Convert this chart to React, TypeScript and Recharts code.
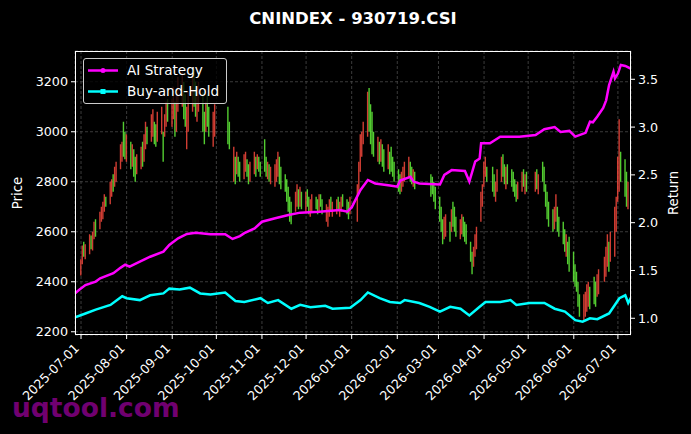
import { Bar, CartesianGrid, ComposedChart, Line, XAxis, YAxis } from "recharts";

// trading calendar, one list of trading days per month
const months = [
  "2025-07", "2025-08", "2025-09", "2025-10", "2025-11", "2025-12",
  "2026-01", "2026-02", "2026-03", "2026-04", "2026-05", "2026-06", "2026-07",
];
const monthDays = [
  [1, 2, 3, 4, 7, 8, 9, 10, 11, 14, 15, 16, 17, 18, 21, 22, 23, 24, 25, 28, 29, 30, 31],
  [1, 4, 5, 6, 7, 8, 11, 12, 13, 14, 15, 18, 19, 20, 21, 22, 25, 26, 27, 28, 29],
  [1, 2, 3, 4, 5, 8, 9, 10, 11, 12, 15, 16, 17, 18, 19, 22, 23, 24, 25, 26, 29, 30],
  [9, 10, 13, 14, 15, 16, 17, 20, 21, 22, 23, 24, 27, 28, 29, 30, 31],
  [3, 4, 5, 6, 7, 10, 11, 12, 13, 14, 17, 18, 19, 20, 21, 24, 25, 26, 27, 28],
  [1, 2, 3, 4, 5, 8, 9, 10, 11, 12, 15, 16, 17, 18, 19, 22, 23, 24, 25, 26, 29, 30, 31],
  [5, 6, 7, 8, 9, 12, 13, 14, 15, 16, 19, 20, 21, 22, 23, 26, 27, 28, 29, 30],
  [2, 3, 4, 5, 6, 9, 10, 11, 12, 13, 24, 25, 26, 27],
  [2, 3, 4, 5, 6, 9, 10, 11, 12, 13, 16, 17, 18, 19, 20, 23, 24, 25, 26, 27, 30, 31],
  [1, 2, 3, 7, 8, 9, 10, 13, 14, 15, 16, 17, 20, 21, 22, 23, 24, 27, 28, 29, 30],
  [6, 7, 8, 11, 12, 13, 14, 15, 18, 19, 20, 21, 22, 25, 26, 27, 28, 29],
  [1, 2, 3, 4, 5, 8, 9, 10, 11, 12, 15, 16, 17, 18, 22, 23, 24, 25, 26, 29, 30],
  [1, 2, 3, 6, 7, 8],
];

// daily low / high of the index, per month
const candleLow = [
  [2425, 2470, 2500, 2490, 2510, 2530, 2525, 2570, 2580, 2610, 2640, 2650, 2680, 2700, 2710, 2740, 2760, 2780, 2800, 2850, 2880, 2900, 2890],
  [2880, 2850, 2860, 2820, 2800, 2830, 2850, 2860, 2880, 2930, 2950, 2960, 2980, 2950, 2940, 2960, 2990, 2880, 2980, 3020, 3040],
  [3020, 3050, 2980, 3000, 3080, 3100, 3050, 3020, 2930, 3000, 3080, 3100, 3060, 3040, 3080, 3000, 2950, 3000, 3020, 2980, 2940, 2980],
  [2950, 2930, 2800, 2790, 2830, 2820, 2800, 2810, 2840, 2820, 2790, 2800, 2830, 2820, 2850, 2840, 2820],
  [2840, 2820, 2810, 2800, 2790, 2780, 2800, 2820, 2790, 2770, 2760, 2720, 2680, 2640, 2630, 2680, 2700, 2690, 2700, 2690],
  [2680, 2700, 2670, 2660, 2680, 2690, 2670, 2680, 2700, 2670, 2640, 2620, 2660, 2680, 2660, 2670, 2690, 2660, 2680, 2700, 2670, 2650, 2670],
  [2640, 2760, 2840, 2900, 2950, 2980, 3000, 2950, 2910, 2900, 2880, 2870, 2880, 2860, 2840, 2850, 2830, 2840, 2820, 2800],
  [2760, 2750, 2760, 2780, 2800, 2820, 2800, 2790, 2780, 2770, 2740, 2750, 2720, 2690],
  [2640, 2600, 2550, 2570, 2580, 2560, 2600, 2620, 2600, 2580, 2570, 2590, 2580, 2560, 2550, 2480, 2430, 2460, 2500, 2530, 2640, 2700],
  [2780, 2820, 2800, 2760, 2740, 2720, 2760, 2800, 2820, 2790, 2770, 2790, 2780, 2760, 2740, 2720, 2730, 2760, 2780, 2750, 2760],
  [2760, 2770, 2750, 2800, 2760, 2700, 2650, 2620, 2600, 2610, 2640, 2600, 2580, 2550, 2520, 2500, 2470, 2440],
  [2400, 2380, 2360, 2300, 2260, 2240, 2260, 2280, 2300, 2290, 2310, 2300, 2340, 2350, 2400, 2420, 2460, 2440, 2480, 2500, 2600],
  [2720, 2760, 2800, 2740, 2700, 2690],
];
const candleHigh = [
  [2490, 2545, 2560, 2550, 2590, 2585, 2600, 2640, 2650, 2680, 2700, 2720, 2750, 2740, 2800, 2810, 2830, 2860, 2880, 2950, 2960, 3040, 3000],
  [2990, 2960, 2950, 2930, 2900, 2910, 2940, 2960, 2990, 3040, 3020, 3070, 3090, 3040, 3030, 3080, 3100, 3000, 3070, 3120, 3130],
  [3130, 3180, 3120, 3150, 3220, 3240, 3200, 3150, 3100, 3160, 3230, 3250, 3200, 3180, 3200, 3160, 3080, 3120, 3150, 3100, 3080, 3110],
  [3100, 3040, 2940, 2900, 2920, 2900, 2880, 2910, 2920, 2890, 2870, 2880, 2920, 2900, 2910, 2900, 2880],
  [2970, 2900, 2880, 2870, 2860, 2870, 2890, 2920, 2900, 2860, 2830, 2810, 2780, 2740, 2720, 2760, 2790, 2770, 2780, 2760],
  [2760, 2770, 2740, 2730, 2750, 2740, 2730, 2750, 2750, 2730, 2710, 2700, 2730, 2740, 2720, 2730, 2740, 2720, 2740, 2750, 2730, 2720, 2740],
  [2790, 2880, 2990, 3000, 3040, 3160, 3175, 3110, 3080, 3000, 2980, 2960, 2970, 2950, 2930, 2950, 2920, 2940, 2900, 2880],
  [2850, 2830, 2840, 2860, 2880, 2900, 2880, 2860, 2850, 2840, 2830, 2820, 2800, 2780],
  [2740, 2700, 2650, 2660, 2670, 2640, 2690, 2720, 2700, 2660, 2650, 2670, 2660, 2640, 2630, 2560, 2520, 2540, 2590, 2620, 2760, 2790],
  [2880, 2900, 2860, 2860, 2830, 2800, 2850, 2900, 2910, 2870, 2860, 2870, 2850, 2840, 2810, 2790, 2800, 2840, 2850, 2830, 2840],
  [2840, 2850, 2830, 2880, 2860, 2790, 2760, 2720, 2690, 2700, 2750, 2700, 2660, 2640, 2610, 2590, 2560, 2580],
  [2520, 2470, 2440, 2400, 2350, 2350, 2360, 2390, 2400, 2380, 2420, 2400, 2430, 2450, 2500, 2540, 2590, 2560, 2600, 2700, 2740],
  [2900, 3050, 2920, 2890, 2840, 2800],
];
// r = up day (red), g = down day (green)
const candleDir = [
  "rrgrrgrrgrrrrgrrgrrrrgg",
  "rgrggrrgrrgrrggrrgrrg",
  "rrgrrrggrrrggrrggrggrr",
  "ggrgrggrrggrrgrgg",
  "ggrgrrrrgggggggrrgrg",
  "rggrrggrggrrrgrrgrrgggr",
  "rrrrrrggggrgrggrgggg",
  "ggrrrrggrggggg",
  "gggrrgrgggrrgggggrrrrr",
  "rrgggrrrggrgggggrrgrg",
  "rgrggggggrrggggrgg",
  "gggggrrrrgggrrrrrgrrr",
  "rrgggr",
];

// strategy curves: [day since 2025-07-01, cumulative return]
const aiStrategy = [
  [-4, 1.262], [-1, 1.3], [3, 1.348], [10, 1.384], [13, 1.418], [22, 1.471], [27, 1.53], [30, 1.56],
  [33, 1.54], [40, 1.592], [47, 1.644], [56, 1.697], [60, 1.767], [66, 1.837], [72, 1.882], [78, 1.895],
  [88, 1.88], [98, 1.88], [103, 1.83], [108, 1.86], [111, 1.89], [118, 1.94], [123, 2.01], [132, 2.046],
  [141, 2.08], [149, 2.105], [162, 2.115], [176, 2.133], [181, 2.115], [184, 2.16], [190, 2.342],
  [195, 2.447], [200, 2.41], [210, 2.39], [215, 2.377], [217, 2.44], [224, 2.48], [226, 2.43],
  [230, 2.41], [244, 2.4], [247, 2.5], [252, 2.55], [261, 2.54], [264, 2.43], [268, 2.64], [271, 2.67],
  [272, 2.83], [278, 2.83], [285, 2.9], [298, 2.9], [309, 2.917], [315, 2.977], [322, 3.0], [326, 2.95],
  [332, 2.96], [336, 2.9], [343, 2.94], [346, 3.056], [348, 3.05], [351, 3.11], [355, 3.2], [357, 3.28],
  [359, 3.44], [362, 3.58], [363, 3.51], [365, 3.56], [367, 3.65], [370, 3.64], [374, 3.61],
];
const buyAndHold = [
  [-4, 1.01], [3, 1.05], [10, 1.09], [20, 1.14], [28, 1.23], [31, 1.21], [40, 1.19], [47, 1.24],
  [56, 1.26], [60, 1.31], [67, 1.3], [74, 1.32], [81, 1.26], [88, 1.25], [98, 1.27], [105, 1.18],
  [111, 1.17], [122, 1.21], [127, 1.16], [134, 1.19], [143, 1.1], [149, 1.14], [156, 1.115], [166, 1.13],
  [171, 1.1], [183, 1.11], [190, 1.19], [195, 1.27], [203, 1.21], [210, 1.17], [217, 1.16], [220, 1.19],
  [230, 1.16], [237, 1.12], [244, 1.07], [251, 1.12], [258, 1.1], [264, 1.03], [271, 1.12], [275, 1.17],
  [285, 1.17], [292, 1.19], [296, 1.14], [305, 1.16], [315, 1.16], [322, 1.1], [329, 1.07], [336, 0.98],
  [341, 0.965], [346, 1.0], [351, 0.99], [359, 1.05], [366, 1.21], [370, 1.24], [372, 1.16], [374, 1.22],
];

const xTickLabels = [
  "2025-07-01", "2025-08-01", "2025-09-01", "2025-10-01", "2025-11-01", "2025-12-01", "2026-01-01",
  "2026-02-01", "2026-03-01", "2026-04-01", "2026-05-01", "2026-06-01", "2026-07-01",
];
const priceTicks = [2200, 2400, 2600, 2800, 3000, 3200];
const returnTicks = [1.0, 1.5, 2.0, 2.5, 3.0, 3.5];

const RED = "#f5483c";
const GREEN = "#62f03a";
const FONT = "DejaVu Sans";

const BASE = Date.UTC(2025, 6, 1);
const dayOf = (iso: string) => {
  const [y, m, d] = iso.split("-").map(Number);
  return Math.round((Date.UTC(y, m - 1, d) - BASE) / 86400000);
};

const candles = months.flatMap((m, mi) =>
  monthDays[mi].map((day, i) => ({
    d: dayOf(`${m}-${day}`),
    lo: candleLow[mi][i],
    hi: candleHigh[mi][i],
    up: candleDir[mi][i] === "r",
  }))
);
const aiRows = aiStrategy.map(([d, v]) => ({ d, v }));
const bhRows = buyAndHold.map(([d, v]) => ({ d, v }));
const xTicks = xTickLabels.map(dayOf);

const Candle = (props: any) => {
  const { x, y, width, height, payload } = props;
  if (!payload || payload.lo == null) return null;
  const top = Math.min(y, y + height);
  const h = Math.max(Math.abs(height), 1);
  return (
    <rect
      x={x + width / 2 - 0.7}
      y={top}
      width={1.4}
      height={h}
      fill={payload.up ? RED : GREEN}
      fillOpacity={0.85}
    />
  );
};

const XTick = (props: any) => {
  const { x, y, payload } = props;
  const label = xTickLabels[xTicks.indexOf(payload.value)];
  return (
    <text
      transform={`translate(${x - 1},${y + 7}) rotate(-45)`}
      textAnchor="end"
      fill="#fff"
      fontSize={12.7}
      fontFamily={FONT}
    >
      {label}
    </text>
  );
};

export default function App() {
  return (
    <div
      style={{
        position: "absolute",
        left: 0,
        top: 0,
        width: 691,
        height: 434,
        background: "#000",
        fontFamily: FONT,
        overflow: "hidden",
      }}
    >
      <svg width={691} height={434} style={{ position: "absolute", left: 0, top: 0 }}>
        <text x={12} y={417} fill="#800080" fillOpacity={0.9} fontSize={26.5} fontWeight="bold" fontFamily={FONT}>
          uqtool.com
        </text>
        <text x={353} y={24} textAnchor="middle" fill="#fff" fontSize={16.5} fontWeight="bold" fontFamily={FONT}>
          CNINDEX - 930719.CSI
        </text>
        <text transform="translate(22,193) rotate(-90)" textAnchor="middle" fill="#fff" fontSize={13.3} fontFamily={FONT}>
          Price
        </text>
        <text transform="translate(678,193) rotate(-90)" textAnchor="middle" fill="#fff" fontSize={13.3} fontFamily={FONT}>
          Return
        </text>
      </svg>
      <div style={{ position: "absolute", left: 0, top: 0 }}>
        <ComposedChart
          width={691}
          height={434}
          data={candles}
          margin={{ top: 51, right: 0, bottom: 0, left: 0 }}
        >
          <CartesianGrid
            yAxisId="left"
            stroke="#4a4a4a"
            strokeWidth={0.8}
            strokeDasharray="3 2"
          />
          <XAxis
            dataKey="d"
            type="number"
            domain={[-4.1, 373.9]}
            allowDataOverflow
            ticks={xTicks}
            interval={0}
            height={99}
            tick={<XTick />}
            tickSize={4}
            tickMargin={3}
            tickLine={{ stroke: "#fff" }}
            axisLine={false}
          />
          <YAxis
            yAxisId="left"
            orientation="left"
            type="number"
            domain={[2187, 3323]}
            allowDataOverflow
            ticks={priceTicks}
            width={75}
            tickSize={4}
            tickMargin={3}
            tick={{ fill: "#fff", fontSize: 12.7, fontFamily: FONT }}
            tickLine={{ stroke: "#fff" }}
            axisLine={false}
          />
          <YAxis
            yAxisId="right"
            orientation="right"
            type="number"
            domain={[0.825, 3.796]}
            allowDataOverflow
            ticks={returnTicks}
            tickFormatter={(v: number) => v.toFixed(1)}
            width={60}
            tickSize={4}
            tickMargin={3}
            tick={{ fill: "#fff", fontSize: 12.7, fontFamily: FONT, textAnchor: "start" }}
            tickLine={{ stroke: "#fff" }}
            axisLine={false}
          />
          <Bar
            yAxisId="left"
            dataKey={(r: any) => [r.lo, r.hi]}
            barSize={1}
            shape={<Candle />}
            isAnimationActive={false}
          />
          <Line
            yAxisId="right"
            data={aiRows}
            dataKey="v"
            type="linear"
            stroke="#ff00ff"
            strokeWidth={2.5}
            dot={false}
            isAnimationActive={false}
          />
          <Line
            yAxisId="right"
            data={bhRows}
            dataKey="v"
            type="linear"
            stroke="#00ffff"
            strokeWidth={2.5}
            dot={false}
            isAnimationActive={false}
          />
        </ComposedChart>
      </div>
      <div
        style={{
          position: "absolute",
          left: 75,
          top: 51,
          width: 556,
          height: 284,
          border: "1px solid #fff",
          boxSizing: "border-box",
          pointerEvents: "none",
        }}
      />
      <div
        style={{
          position: "absolute",
          left: 83,
          top: 58,
          width: 144,
          height: 46,
          border: "1px solid #ccc",
          borderRadius: 3,
          background: "rgba(0,0,0,0.8)",
          boxSizing: "border-box",
        }}
      >
        <svg width={144} height={46} style={{ position: "absolute", left: -1, top: -1 }}>
          <line x1={5} x2={35} y1={12.5} y2={12.5} stroke="#ff00ff" strokeWidth={2.5} />
          <circle cx={20} cy={12.5} r={2.5} fill="#ff00ff" />
          <line x1={5} x2={35} y1={33.5} y2={33.5} stroke="#00ffff" strokeWidth={2.5} />
          <rect x={17.5} y={31} width={5} height={5} fill="#00ffff" />
          <text x={44} y={17} fill="#fff" fontSize={13.6} fontFamily={FONT}>
            AI Strategy
          </text>
          <text x={44} y={38} fill="#fff" fontSize={13.6} fontFamily={FONT}>
            Buy-and-Hold
          </text>
        </svg>
      </div>
    </div>
  );
}
